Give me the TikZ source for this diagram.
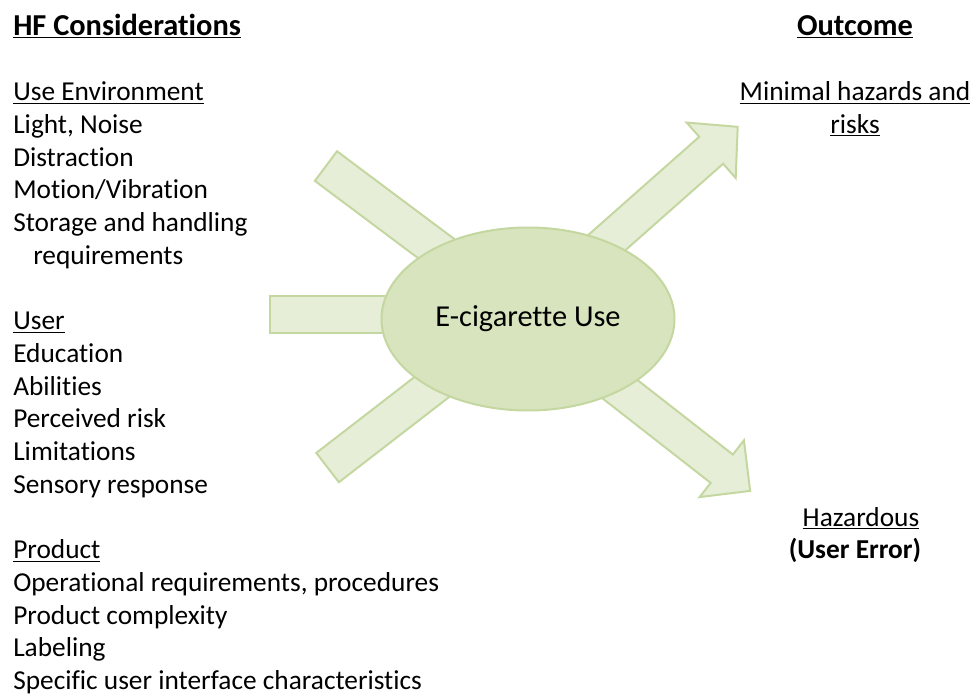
\documentclass[tikz,border=0pt]{standalone}
\usepackage{fontspec}
\setmainfont{Carlito}[Ligatures=NoCommon]
\usepackage{tikz}
\usetikzlibrary{positioning, shapes.geometric}

\definecolor{hubfill}{RGB}{215,228,189}
\definecolor{armfill}{RGB}{230,238,216}
\definecolor{armline}{RGB}{197,215,160}

\tikzset{
  txt/.style={anchor=base west, inner sep=0pt, font=\fontsize{20.5}{24}\selectfont},
  outtxt/.style={anchor=base, inner sep=0pt, font=\fontsize{20.5}{24}\selectfont},
  head/.style={font=\fontsize{22.8}{26}\selectfont},
  arm/.style={fill=armfill, draw=armline, line width=1.5pt, line join=miter},
}

\begin{document}
\begin{tikzpicture}[x=0.75pt, y=-0.75pt]
  \useasboundingbox (0,0) rectangle (971,695);

  % bars coming in from the left
  \begin{scope}[shift={(525,315)}, rotate=143.2]
    \draw[arm] (100,-18.5) rectangle (248.6,18.5);
  \end{scope}
  \begin{scope}[shift={(525,315)}, rotate=180]
    \draw[arm] (100,-18.5) rectangle (255,18.5);
  \end{scope}
  \begin{scope}[shift={(525,315)}, rotate=217.7]
    \draw[arm] (100,-18.5) rectangle (249.5,18.5);
  \end{scope}

  % arrows going out to the right
  \begin{scope}[shift={(525,315)}, rotate=41.5]
    \draw[arm] (100,-18) -- (248.6,-18) -- (248.6,-37) -- (284,0)
      -- (248.6,37) -- (248.6,18) -- (100,18) -- cycle;
  \end{scope}
  \begin{scope}[shift={(525,315)}, rotate=-38]
    \draw[arm] (100,-18) -- (249.7,-18) -- (249.7,-36) -- (285.7,0)
      -- (249.7,36) -- (249.7,18) -- (100,18) -- cycle;
  \end{scope}

  \node[ellipse, fill=hubfill, draw=armline, line width=1.5pt,
        minimum width=219.75pt, minimum height=137.25pt, head] (use)
        at (528,319) {E-cigarette Use};

  % HF considerations
  \node[txt, head] (hf) at (13,35.5)  {\underline{\textbf{HF Considerations}}};
  \node[txt] (env)     at (13,100.9) {\underline{Use Environment}};
  \node[txt] (light)   at (13,133.6) {Light, Noise};
  \node[txt] (distr)   at (13,166.3) {Distraction};
  \node[txt] (motion)  at (13,199)   {Motion/Vibration};
  \node[txt] (storage) at (13,231.7) {Storage and handling};
  \node[txt] (req)     at (33,264.4) {requirements};

  \node[txt] (user)    at (13,329.8) {\underline{User}};
  \node[txt] (edu)     at (13,362.5) {Education};
  \node[txt] (abil)    at (13,395.2) {Abilities};
  \node[txt] (risk)    at (13,427.9) {Perceived risk};
  \node[txt] (limit)   at (13,460.6) {Limitations};
  \node[txt] (sense)   at (13,493.3) {Sensory response};

  \node[txt] (prod)    at (13,558.7) {\underline{Product}};
  \node[txt] (oper)    at (13,591.4) {Operational requirements, procedures};
  \node[txt] (cplx)    at (13,624.1) {Product complexity};
  \node[txt] (label)   at (13,656.8) {Labeling};
  \node[txt] (ui)      at (13,689.5) {Specific user interface characteristics};

  % outcome
  \node[outtxt, head] (outcome) at (855,35.5) {\underline{\textbf{Outcome}}};
  \node[outtxt] (minimal) at (855,100.9) {\underline{Minimal hazards and}};
  \node[outtxt] (risks)   at (855,133.6) {\underline{risks}};
  \node[outtxt] (hazard)  at (861,526)   {\underline{Hazardous}};
  \node[outtxt] (error)   at (855,558.7) {\textbf{(User Error)}};
\end{tikzpicture}
\end{document}
